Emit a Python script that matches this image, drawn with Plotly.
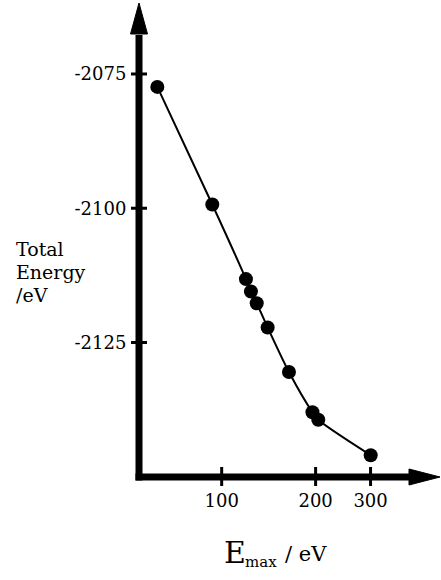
import plotly.graph_objects as go

# Data
emax_ev = [62.2, 93.3, 119.6, 124.1, 129.5, 140.4, 164.3, 195.4, 204.0, 300.3]
total_energy = [-2077.4, -2099.3, -2113.2, -2115.5, -2117.7, -2122.2, -2130.5, -2138.0, -2139.4, -2146.0]
y_tick_vals = [-2075, -2100, -2125]
y_tick_text = ["-2075", "-2100", "-2125"]
x_tick_vals = [100, 200, 300]
x_tick_text = ["100", "200", "300"]

W, H = 441, 580
ML, MR, MT, MB = 139, 1, 3, 103
PW, PH = W - ML - MR, H - MT - MB
FONT = "DejaVu Serif"

fig = go.Figure()
fig.add_trace(go.Scatter(
    x=emax_ev, y=total_energy, mode="lines",
    line=dict(color="black", width=2, shape="spline", smoothing=0.8),
    hoverinfo="skip", showlegend=False))
fig.add_trace(go.Scatter(
    x=emax_ev, y=total_energy, mode="markers",
    marker=dict(color="black", size=14, line=dict(width=0)),
    showlegend=False))

def px_x(p):
    return p / PW

def px_y(p):
    return p / PH

shapes = []
shapes.append(dict(type="line", xref="paper", yref="paper", x0=0, x1=0,
                   y0=-px_y(3.5), y1=1 - px_y(32), line=dict(color="black", width=7)))
shapes.append(dict(type="path", xref="paper", yref="paper",
                   path=f"M {-px_x(8.5)},{1 - px_y(31)} L {px_x(8.5)},{1 - px_y(31)} L 0,1 Z",
                   fillcolor="black", line=dict(color="black", width=1)))
shapes.append(dict(type="line", xref="paper", yref="paper", x0=-px_x(3.5), x1=1 - px_x(31),
                   y0=0, y1=0, line=dict(color="black", width=7)))
shapes.append(dict(type="path", xref="paper", yref="paper",
                   path=f"M {1 - px_x(31)},{-px_y(8)} L {1 - px_x(31)},{px_y(8)} L 1,0 Z",
                   fillcolor="black", line=dict(color="black", width=1)))
for v in y_tick_vals:
    shapes.append(dict(type="line", xref="paper", yref="y", x0=-px_x(8), x1=px_x(8),
                       y0=v, y1=v, line=dict(color="black", width=3)))
for v in x_tick_vals:
    shapes.append(dict(type="line", xref="x", yref="paper", x0=v, x1=v,
                       y0=-px_y(9), y1=px_y(10), line=dict(color="black", width=3)))

annotations = []
for i, t in enumerate(["Total", "Energy", "/eV"]):
    annotations.append(dict(text=t, xref="paper", yref="paper",
                            x=px_x(14 - ML), y=px_y(H - MB - (249 + 23 * i)),
                            xanchor="left", yanchor="middle", showarrow=False,
                            font=dict(family=FONT, size=19, color="black")))
annotations.append(dict(text="E", xref="paper", yref="paper",
                        x=px_x(222 - ML), y=px_y(H - MB - 552), xanchor="left", yanchor="middle",
                        showarrow=False, font=dict(family=FONT, size=30, color="black")))
annotations.append(dict(text="max", xref="paper", yref="paper",
                        x=px_x(243 - ML), y=px_y(H - MB - 562), xanchor="left", yanchor="middle",
                        showarrow=False, font=dict(family=FONT, size=15, color="black")))
annotations.append(dict(text="/ eV", xref="paper", yref="paper",
                        x=px_x(283 - ML), y=px_y(H - MB - 554), xanchor="left", yanchor="middle",
                        showarrow=False, font=dict(family=FONT, size=21, color="black")))

fig.update_layout(
    width=W, height=H,
    margin=dict(l=ML, r=MR, t=MT, b=MB, pad=0),
    paper_bgcolor="white", plot_bgcolor="white",
    shapes=shapes, annotations=annotations,
    xaxis=dict(type="log", range=[1.735, 2.6997], showgrid=False, zeroline=False,
               showline=False, tickvals=x_tick_vals, ticktext=x_tick_text,
               ticks="outside", ticklen=7, tickcolor="rgba(0,0,0,0)",
               tickfont=dict(family=FONT, size=18, color="black")),
    yaxis=dict(range=[-2150.05, -2061.78], showgrid=False, zeroline=False,
               showline=False, tickvals=y_tick_vals, ticktext=y_tick_text,
               ticks="outside", ticklen=8, tickcolor="rgba(0,0,0,0)",
               tickfont=dict(family=FONT, size=18, color="black")),
    font=dict(family=FONT, color="black"),
)

fig.write_html("out.html")
